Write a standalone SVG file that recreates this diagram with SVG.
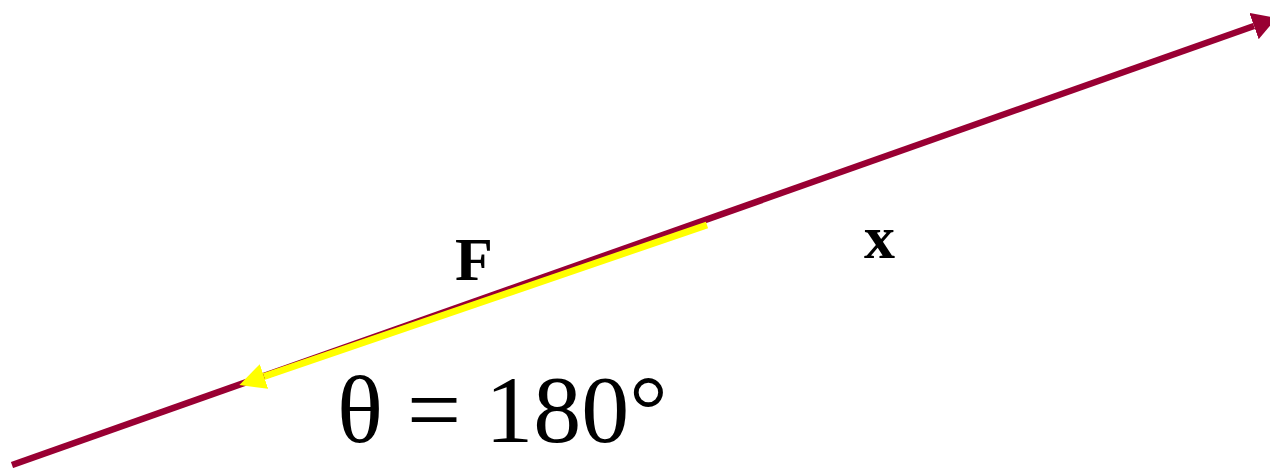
<svg xmlns="http://www.w3.org/2000/svg" width="1270" height="468" viewBox="0 0 1270 468">
<style>
.lbl{font-family:"Liberation Serif","Times New Roman",serif;fill:#000}
.b{font-weight:bold;font-size:62px}
</style>
<defs>
<marker id="mhead" markerUnits="userSpaceOnUse" markerWidth="28" markerHeight="28" refX="0" refY="14" orient="auto" viewBox="0 0 28 28">
<path d="M0,0 L24,14 L0,28 Z" fill="#990033"/>
</marker>
<marker id="yhead" markerUnits="userSpaceOnUse" markerWidth="28" markerHeight="28" refX="0" refY="14" orient="auto" viewBox="0 0 28 28">
<path d="M0,1 L26,14 L0,27 Z" fill="#FFFF00"/>
</marker>
</defs>
<rect width="1270" height="468" fill="#fff"/>
<g id="connectors">
<line id="x-axis" x1="12" y1="465" x2="1254" y2="26" stroke="#990033" stroke-width="6.5" marker-end="url(#mhead)"/>
<line id="force" x1="707" y1="225" x2="264" y2="376.5" stroke="#FFFF00" stroke-width="6.8" marker-end="url(#yhead)"/>
</g>
<g id="label-F"><text class="lbl b" x="455" y="280">F</text></g>
<g id="label-x"><text class="lbl b" x="864" y="258">x</text></g>
<g id="label-theta"><text class="lbl" x="337" y="442" font-size="96">θ = 180°</text></g>
</svg>
